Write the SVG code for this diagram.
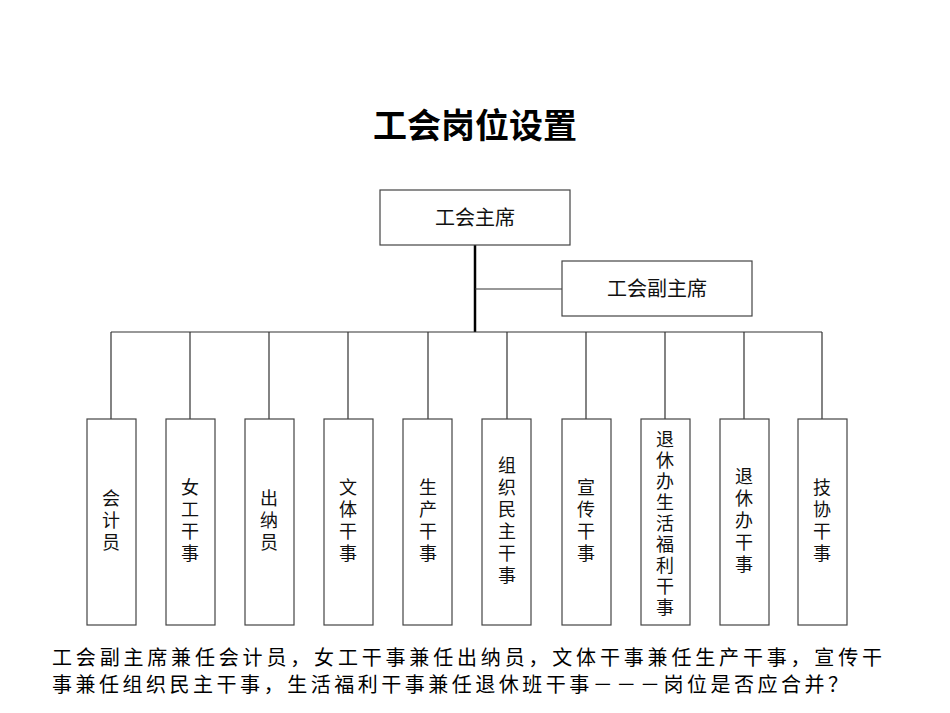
<svg xmlns="http://www.w3.org/2000/svg" width="950" height="713" viewBox="0 0 950 713">
<style>
.b{fill:#fff;stroke:#444;stroke-width:1.2}
.t{font-family:"Noto Sans CJK SC","Liberation Sans",sans-serif;font-size:20px;fill:#111;text-anchor:middle}
.v{font-family:"Noto Sans CJK SC","Liberation Sans",sans-serif;font-size:18px;fill:#111;text-anchor:middle}
.c{stroke:#333;stroke-width:1.2;fill:none}
</style>
<rect width="950" height="713" fill="#fff"/>
<text x="475" y="138" style="font-family:'Noto Sans CJK SC',sans-serif;font-size:34px;font-weight:bold;text-anchor:middle">工会岗位设置</text>
<g id="connectors">
<path d="M475 245V332" style="stroke-width:2.5;stroke:#000;fill:none"/>
<path class="c" d="M475 289H562M111 332H822M111 332V419M190 332V419M269 332V419M348 332V419M428 332V419M507 332V419M586 332V419M665 332V419M744 332V419M822 332V419"/>
</g>
<g id="n0"><rect class="b" x="380" y="190" width="190" height="55"/><text class="t" x="475" y="225">工会主席</text></g>
<g id="n1"><rect class="b" x="562" y="261" width="190" height="55"/><text class="t" x="657" y="296">工会副主席</text></g>
<g id="n2"><rect class="b" x="87" y="419" width="49" height="206"/><text class="v"><tspan x="111" y="505">会</tspan><tspan x="111" y="527">计</tspan><tspan x="111" y="549">员</tspan></text></g>
<g id="n3"><rect class="b" x="166" y="419" width="49" height="206"/><text class="v"><tspan x="190" y="494">女</tspan><tspan x="190" y="516">工</tspan><tspan x="190" y="538">干</tspan><tspan x="190" y="560">事</tspan></text></g>
<g id="n4"><rect class="b" x="245" y="419" width="49" height="206"/><text class="v"><tspan x="269" y="505">出</tspan><tspan x="269" y="527">纳</tspan><tspan x="269" y="549">员</tspan></text></g>
<g id="n5"><rect class="b" x="324" y="419" width="49" height="206"/><text class="v"><tspan x="348" y="494">文</tspan><tspan x="348" y="516">体</tspan><tspan x="348" y="538">干</tspan><tspan x="348" y="560">事</tspan></text></g>
<g id="n6"><rect class="b" x="403" y="419" width="49" height="206"/><text class="v"><tspan x="428" y="494">生</tspan><tspan x="428" y="516">产</tspan><tspan x="428" y="538">干</tspan><tspan x="428" y="560">事</tspan></text></g>
<g id="n7"><rect class="b" x="482" y="419" width="49" height="206"/><text class="v"><tspan x="507" y="472">组</tspan><tspan x="507" y="494">织</tspan><tspan x="507" y="516">民</tspan><tspan x="507" y="538">主</tspan><tspan x="507" y="560">干</tspan><tspan x="507" y="582">事</tspan></text></g>
<g id="n8"><rect class="b" x="562" y="419" width="49" height="206"/><text class="v"><tspan x="586" y="494">宣</tspan><tspan x="586" y="516">传</tspan><tspan x="586" y="538">干</tspan><tspan x="586" y="560">事</tspan></text></g>
<g id="n9"><rect class="b" x="641" y="419" width="49" height="206"/><text class="v"><tspan x="665" y="446">退</tspan><tspan x="665" y="467">休</tspan><tspan x="665" y="488">办</tspan><tspan x="665" y="509">生</tspan><tspan x="665" y="530">活</tspan><tspan x="665" y="551">福</tspan><tspan x="665" y="572">利</tspan><tspan x="665" y="593">干</tspan><tspan x="665" y="614">事</tspan></text></g>
<g id="n10"><rect class="b" x="720" y="419" width="49" height="206"/><text class="v"><tspan x="744" y="483">退</tspan><tspan x="744" y="505">休</tspan><tspan x="744" y="527">办</tspan><tspan x="744" y="549">干</tspan><tspan x="744" y="571">事</tspan></text></g>
<g id="n11"><rect class="b" x="798" y="419" width="49" height="206"/><text class="v"><tspan x="822" y="494">技</tspan><tspan x="822" y="516">协</tspan><tspan x="822" y="538">干</tspan><tspan x="822" y="560">事</tspan></text></g>
<text style="font-family:'Noto Sans CJK SC',sans-serif;font-size:20px;fill:#000" x="52" y="665" textLength="830" lengthAdjust="spacing">工会副主席兼任会计员，女工干事兼任出纳员，文体干事兼任生产干事，宣传干</text>
<text style="font-family:'Noto Sans CJK SC',sans-serif;font-size:20px;fill:#000" x="52" y="692" textLength="796" lengthAdjust="spacing">事兼任组织民主干事，生活福利干事兼任退休班干事－－－岗位是否应合并？</text>
</svg>
